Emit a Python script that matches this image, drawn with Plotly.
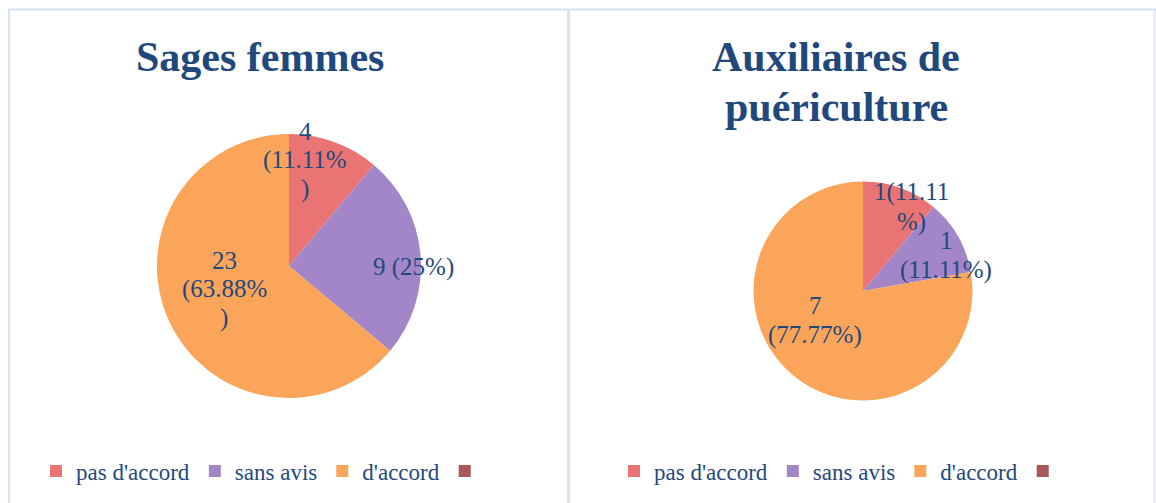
import plotly.graph_objects as go

# ---------------- data ----------------
categories = ["pas d'accord", "sans avis", "d'accord", " "]
sages_values = [4, 9, 23, 0]
aux_values = [1, 1, 7, 0]
sages_labels = ["4\n(11.11%\n)", "9 (25%)", "23\n(63.88%\n)"]
aux_labels = ["1(11.11\n%)", "1\n(11.11%)", "7\n(77.77%)"]
titles = ["Sages femmes", "Auxiliaires de\npuériculture"]

# ---------------- style ----------------
W, H = 1156, 503
colors = ["#EA7474", "#A386C8", "#FBA55A", "#A85858"]
text_color = "#1F497D"
border = "#D5E2F3"
serif = "Liberation Serif, Times New Roman, serif"


def px(x):
    return x / W


def py(y):
    return 1 - y / H


# pie geometry (pixel centre, radius)
pies = [
    dict(cx=289, cy=266, r=132, values=sages_values, legend="legend",
         suffix="", labels=sages_labels,
         label_pos=[(305, 160), (413, 267), (224, 289)], spacing=29),
    dict(cx=863, cy=291, r=109.5, values=aux_values, legend="legend2",
         suffix="\u200b", labels=aux_labels,
         label_pos=[(911, 207), (946, 255), (815, 320)], spacing=29),
]

fig = go.Figure()
annotations = []

for p in pies:
    fig.add_trace(go.Pie(
        labels=[c + p["suffix"] for c in categories],
        values=p["values"],
        sort=False,
        direction="clockwise",
        rotation=0,
        marker=dict(colors=colors, line=dict(width=0)),
        textinfo="none",
        hoverinfo="label+value+percent",
        domain=dict(x=[px(p["cx"] - p["r"]), px(p["cx"] + p["r"])],
                    y=[py(p["cy"] + p["r"]), py(p["cy"] - p["r"])]),
        legend=p["legend"],
        showlegend=True,
    ))
    for txt, (x, y) in zip(p["labels"], p["label_pos"]):
        lines = txt.split("\n")
        n = len(lines)
        for i, ln in enumerate(lines):
            yy = y + (i - (n - 1) / 2) * p["spacing"]
            annotations.append(dict(
                x=px(x), y=py(yy), xref="paper", yref="paper",
                text=ln, showarrow=False, xanchor="center", yanchor="middle",
                font=dict(family=serif, size=25, color=text_color)))

# titles
title_pos = [(260, 57, 50), (836, 57, 50)]
for t, (x, y, sp) in zip(titles, title_pos):
    for i, ln in enumerate(t.split("\n")):
        annotations.append(dict(
            x=px(x), y=py(y + i * sp), xref="paper", yref="paper",
            text="<b>" + ln + "</b>", showarrow=False,
            xanchor="center", yanchor="middle",
            font=dict(family=serif, size=42, color=text_color)))

# panel borders
shapes = [
    dict(type="line", xref="paper", yref="paper", x0=px(8), x1=px(1156),
         y0=py(9.5), y1=py(9.5), line=dict(color=border, width=2)),
    dict(type="line", xref="paper", yref="paper", x0=px(9), x1=px(9),
         y0=py(9.5), y1=py(503), line=dict(color=border, width=2)),
    dict(type="line", xref="paper", yref="paper", x0=px(568.5), x1=px(568.5),
         y0=py(9.5), y1=py(503), line=dict(color=border, width=3)),
    dict(type="line", xref="paper", yref="paper", x0=px(1154.5), x1=px(1154.5),
         y0=py(9.5), y1=py(503), line=dict(color="#E4E8F0", width=2)),
]

legend_common = dict(orientation="h", xanchor="center", yanchor="middle",
                     font=dict(family=serif, size=23, color=text_color),
                     bgcolor="rgba(0,0,0,0)", itemwidth=30)

fig.update_layout(
    width=W, height=H,
    margin=dict(l=0, r=0, t=0, b=0),
    paper_bgcolor="white",
    plot_bgcolor="white",
    annotations=annotations,
    shapes=shapes,
    legend=dict(x=px(266), y=py(471), **legend_common),
    legend2=dict(x=px(844), y=py(471), **legend_common),
)

fig.write_html("out.html",
               config={"displayModeBar": False},
               post_script="document.body.style.margin='0';"
                           "document.body.style.padding='0';")
